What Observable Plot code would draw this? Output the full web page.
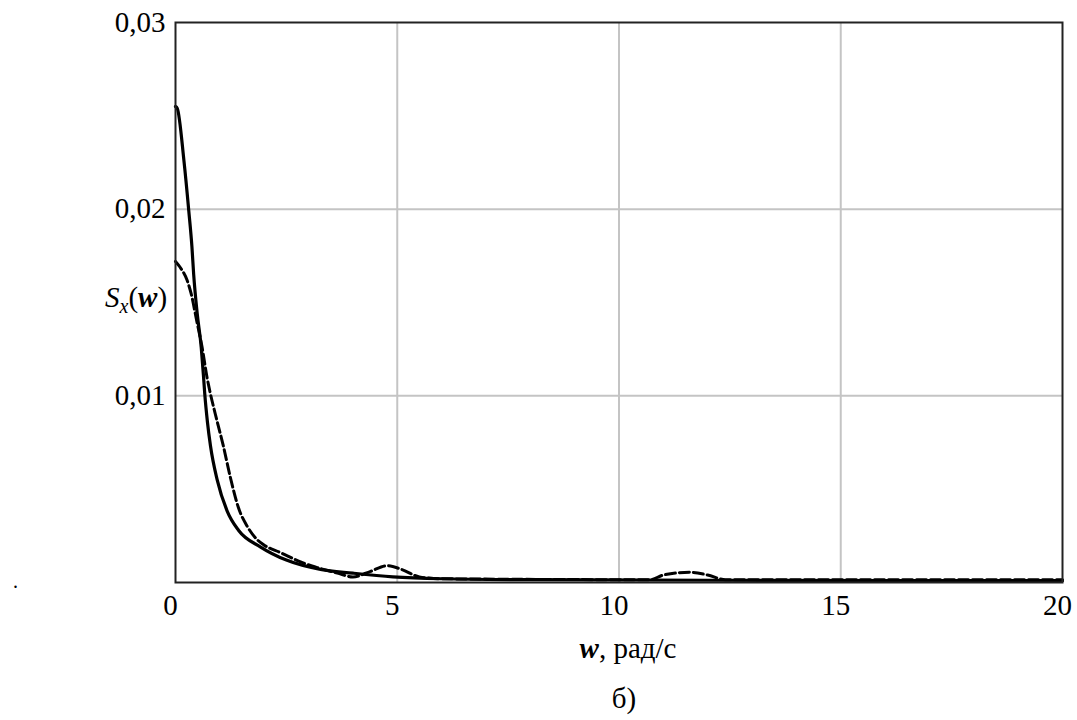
<!DOCTYPE html>
<html>
<head>
<meta charset="utf-8">
<script src="https://cdn.jsdelivr.net/npm/d3@7"></script>
<script src="https://cdn.jsdelivr.net/npm/@observablehq/plot@0.6"></script>
<style>
  html, body { margin: 0; padding: 0; background: #fff; }
  #chart { width: 1077px; height: 720px; }
</style>
</head>
<body>
<div id="chart"></div>
<script>
// Solid curve S_x(w)
const solidW = [0, 0.04, 0.19, 0.3, 0.37, 0.41, 0.49, 0.58, 0.63, 0.66, 0.72, 0.79, 0.94, 1.17, 1.42, 1.92, 2.5, 3.27, 4.0, 4.9, 6.0, 8.0, 12.0, 20.0];
const solidS = [0.0255, 0.0254, 0.0226, 0.0199, 0.0180, 0.0165, 0.0144, 0.0126, 0.0111, 0.0101, 0.0086, 0.0073, 0.0055, 0.0038, 0.0028, 0.0019, 0.0012, 0.0007, 0.0005, 0.0003, 0.0002, 0.00015, 0.00012, 0.0001];
// Dashed curve
const dashW = [0, 0.1, 0.26, 0.35, 0.48, 0.6, 0.71, 0.77, 0.9, 1.08, 1.24, 1.42, 1.62, 1.84, 2.0, 2.37, 2.82, 3.2, 3.65, 4.0, 4.4, 4.77, 5.1, 5.5, 6.0, 10.7, 11.0, 11.6, 12.0, 12.4, 20.0];
const dashS = [0.0172, 0.0169, 0.0162, 0.0155, 0.0140, 0.0126, 0.0110, 0.0103, 0.0090, 0.0073, 0.0056, 0.0040, 0.0030, 0.0023, 0.0020, 0.0016, 0.0011, 0.0008, 0.0005, 0.0003, 0.0006, 0.0009, 0.0007, 0.0003, 0.0002, 0.00015, 0.0004, 0.00055, 0.0004, 0.00015, 0.00015];
// Ticks
const xTicks = [0, 5, 10, 15, 20];
const yTicks = [0.01, 0.02, 0.03];
const xGrid = [5, 10, 15];
const yGrid = [0.01, 0.02];

const solid = solidW.map((w, i) => ({w, s: solidS[i]}));
const dashed = dashW.map((w, i) => ({w, s: dashS[i]}));
const fmt = d => d.toFixed(2).replace(".", ",");

const FONT = "'Liberation Serif', 'Times New Roman', serif";

const svg = Plot.plot({
  width: 1077,
  height: 720,
  marginLeft: 175,
  marginRight: 15,
  marginTop: 22,
  marginBottom: 138,
  style: {fontFamily: FONT, fontSize: "29px", background: "white", color: "black"},
  x: {domain: [0, 20]},
  y: {domain: [0, 0.03]},
  marks: [
    Plot.ruleX(xGrid, {stroke: "#c4c4c4", strokeWidth: 2}),
    Plot.ruleY(yGrid, {stroke: "#c4c4c4", strokeWidth: 2}),
    Plot.line(solid, {x: "w", y: "s", stroke: "black", strokeWidth: 3.2, curve: "monotone-x"}),
    Plot.line(dashed, {x: "w", y: "s", stroke: "black", strokeWidth: 3, strokeDasharray: "10,4", curve: "monotone-x"}),
    Plot.frame({stroke: "#222", strokeWidth: 2}),
    Plot.axisX(xTicks, {tickSize: 0, tickPadding: 12, label: null, tickFormat: d => String(d), dx: -5, fontFamily: FONT}),
    Plot.axisY(yTicks, {tickSize: 0, tickPadding: 10, label: null, tickFormat: fmt, fontFamily: FONT})
  ]
});

document.getElementById("chart").appendChild(svg);

const s = d3.select(svg);
// Y axis label S_x(w)
const yl = s.append("text").attr("x", 105).attr("y", 307).attr("text-anchor", "start").attr("font-size", 29).attr("fill", "black").style("font-family", FONT);
yl.append("tspan").attr("font-style", "italic").text("S");
yl.append("tspan").attr("font-style", "italic").attr("font-size", 20).attr("dy", 6).text("x");
yl.append("tspan").attr("dy", -6).text("(");
yl.append("tspan").attr("font-style", "italic").attr("font-weight", "bold").text("w");
yl.append("tspan").text(")");

// X axis label
const xl = s.append("text").attr("x", 628).attr("y", 658).attr("text-anchor", "middle").attr("font-size", 29).attr("fill", "black").style("font-family", FONT);
xl.append("tspan").attr("font-style", "italic").attr("font-weight", "bold").text("w");
xl.append("tspan").text(", рад/с");

// Caption
s.append("text").attr("x", 624).attr("y", 708).attr("text-anchor", "middle").attr("font-size", 29).attr("fill", "black").style("font-family", FONT).text("б)");

// small stray dot
s.append("text").attr("x", 13).attr("y", 588).attr("text-anchor", "start").attr("font-size", 20).attr("fill", "black").style("font-family", FONT).text(".");
</script>
</body>
</html>
